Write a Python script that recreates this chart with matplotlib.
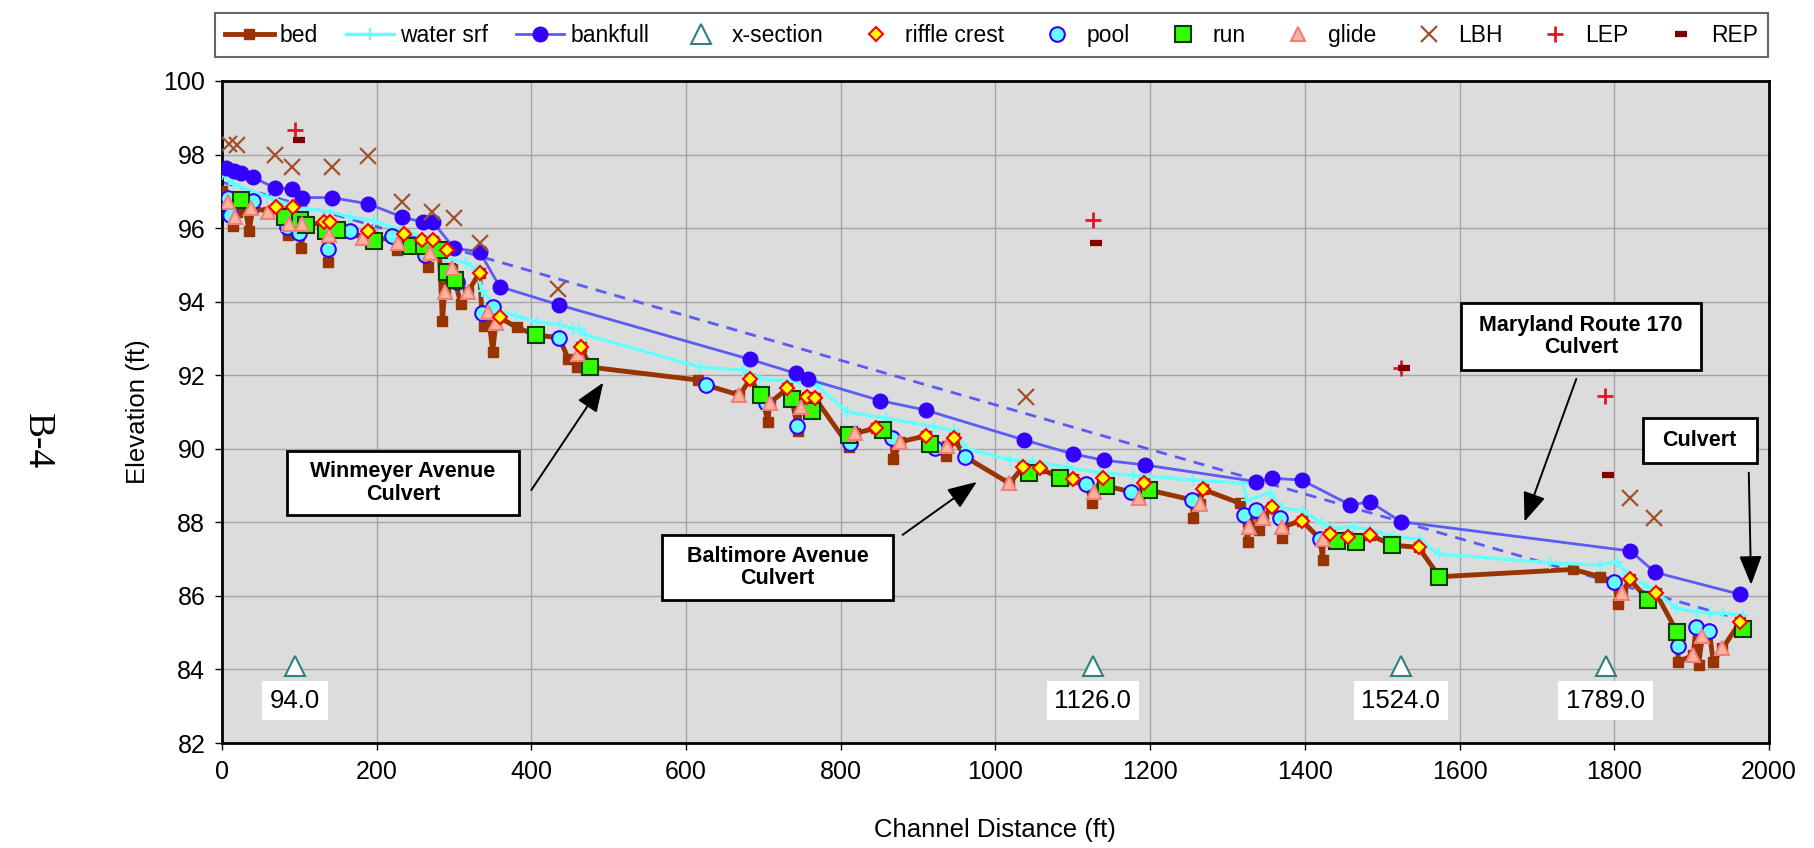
import matplotlib
matplotlib.use("Agg")
import matplotlib.pyplot as plt
from matplotlib.patches import Rectangle

plt.rcParams['font.family'] = ['Liberation Sans', 'DejaVu Sans']

# ---------------- data ----------------
bed_x = [0, 8, 14, 20, 30, 35, 40, 60, 70, 81, 85, 92, 101, 102, 108, 132, 137, 140, 149, 166,
         182, 189, 196, 220, 226, 235, 245, 259, 266, 273, 281, 285, 288, 291, 298, 301, 309, 318,
         333, 336, 339, 344, 350, 354, 359, 381, 406, 436, 448, 459, 464, 476, 615, 626, 669, 683,
         697, 706, 708, 731, 737, 745, 748, 757, 763, 767, 811, 818, 846, 855, 866, 868, 877, 910,
         916, 922, 936, 937, 946, 961, 1018, 1036, 1043, 1058, 1083, 1100, 1117, 1125, 1127, 1139,
         1143, 1175, 1186, 1192, 1198, 1254, 1256, 1264, 1268, 1316, 1321, 1326, 1328, 1337, 1341,
         1346, 1357, 1368, 1370, 1372, 1396, 1420, 1423, 1424, 1433, 1441, 1456, 1466, 1484, 1513,
         1547, 1574, 1747, 1782, 1800, 1805, 1810, 1820, 1844, 1854, 1881, 1883, 1902, 1906, 1909,
         1914, 1923, 1928, 1940, 1963, 1967]
bed_y = [97.00, 96.70, 96.05, 96.45, 96.55, 95.92, 96.55, 96.45, 96.55, 96.30, 95.80, 96.50, 96.20,
         95.47, 96.08, 96.15, 95.07, 96.10, 95.95, 95.90, 95.72, 95.90, 95.65, 95.75, 95.40, 95.80,
         95.50, 95.65, 94.95, 95.65, 95.40, 93.47, 94.30, 94.80, 94.90, 94.59, 93.93, 94.27, 94.79,
         93.70, 93.34, 93.73, 92.64, 93.41, 93.57, 93.30, 93.09, 93.02, 92.43, 92.23, 92.78, 92.22,
         91.87, 91.73, 91.46, 91.89, 91.46, 90.74, 91.24, 91.64, 91.34, 90.47, 91.13, 91.40, 91.03,
         91.37, 90.06, 90.42, 90.56, 90.51, 90.28, 89.71, 90.19, 90.35, 90.13, 90.01, 89.80, 90.08,
         90.28, 89.78, 89.06, 89.51, 89.35, 89.47, 89.20, 89.17, 89.04, 88.52, 88.83, 89.20, 88.99,
         88.83, 88.65, 89.06, 88.88, 88.61, 88.11, 88.50, 88.90, 88.52, 88.20, 87.47, 87.88, 88.34,
         87.79, 88.11, 88.41, 88.11, 87.57, 87.88, 88.05, 87.54, 86.98, 87.54, 87.68, 87.50, 87.61,
         87.47, 87.66, 87.38, 87.32, 86.52, 86.72, 86.52, 86.39, 85.78, 86.07, 86.45, 85.89, 86.07,
         85.03, 84.21, 84.39, 85.15, 84.12, 84.91, 85.05, 84.21, 84.57, 85.30, 85.09]

wsrf_x = [0, 15, 58, 100, 140, 166, 196, 230, 273, 290, 316, 330, 336, 360, 381, 407, 437, 454, 462,
          470, 618, 674, 696, 747, 769, 808, 859, 920, 946, 963, 1019, 1049, 1092, 1135, 1178, 1256,
          1320, 1325, 1355, 1370, 1398, 1422, 1437, 1463, 1484, 1515, 1547, 1573, 1717, 1782, 1803,
          1816, 1844, 1881, 1907, 1924, 1941, 1967]
wsrf_y = [97.47, 97.20, 96.85, 96.55, 96.45, 96.30, 96.20, 95.95, 95.70, 95.20, 95.05, 94.85, 94.30,
          93.75, 93.60, 93.45, 93.37, 93.27, 93.25, 93.10, 92.22, 92.14, 91.90, 91.82, 91.73, 91.00,
          90.83, 90.60, 90.50, 90.00, 89.70, 89.65, 89.50, 89.35, 89.28, 89.15, 89.06, 88.60, 88.80,
          88.40, 88.30, 87.97, 87.84, 87.88, 87.80, 87.62, 87.54, 87.14, 86.90, 86.84, 86.93, 86.60,
          86.25, 85.66, 85.57, 85.53, 85.53, 85.48]

bkf_x = [5, 15, 25, 40, 68, 91, 104, 142, 189, 233, 260, 273, 300, 333, 359, 436, 683, 742, 758, 851,
         910, 1037, 1100, 1140, 1193, 1337, 1357, 1396, 1459, 1484, 1524, 1821, 1853, 1963]
bkf_y = [97.63, 97.55, 97.50, 97.38, 97.10, 97.06, 96.83, 96.83, 96.66, 96.30, 96.16, 96.16, 95.45,
         95.36, 94.41, 93.91, 92.43, 92.05, 91.89, 91.31, 91.05, 90.24, 89.86, 89.69, 89.56, 89.11,
         89.20, 89.15, 88.47, 88.56, 88.02, 87.22, 86.64, 86.04]

bkf_trend_x = [0, 1965]
bkf_trend_y = [97.25, 85.35]

xsec_x = [94.0, 1126.0, 1524.0, 1789.0]
xsec_y = [84.1, 84.1, 84.1, 84.1]

riffle_x = [70, 92, 132, 140, 189, 235, 259, 273, 291, 333, 359, 464, 683, 731, 757, 767, 846, 910,
            946, 1036, 1058, 1100, 1139, 1192, 1268, 1357, 1396, 1433, 1456, 1484, 1547, 1820, 1854,
            1963]
riffle_y = [96.58, 96.57, 96.16, 96.16, 95.93, 95.83, 95.68, 95.68, 95.41, 94.79, 93.57, 92.78, 91.89,
            91.64, 91.40, 91.37, 90.56, 90.35, 90.28, 89.51, 89.47, 89.17, 89.20, 89.06, 88.90, 88.41,
            88.05, 87.68, 87.61, 87.66, 87.32, 86.45, 86.07, 85.30]

pool_x = [8, 11, 40, 84, 100, 137, 166, 220, 263, 304, 336, 350, 436, 626, 704, 743, 812, 866, 922,
          961, 1117, 1175, 1254, 1321, 1337, 1368, 1420, 1800, 1883, 1906, 1923]
pool_y = [96.81, 96.36, 96.75, 96.04, 95.88, 95.43, 95.92, 95.79, 95.27, 94.54, 93.70, 93.86, 93.02,
          91.73, 91.25, 90.62, 90.17, 90.28, 90.01, 89.78, 89.04, 88.83, 88.61, 88.20, 88.34, 88.11,
          87.54, 86.39, 84.65, 85.15, 85.05]

run_x = [24, 81, 101, 108, 135, 149, 196, 245, 261, 281, 291, 301, 406, 476, 697, 737, 763, 811, 855,
         916, 1043, 1083, 1143, 1198, 1441, 1466, 1513, 1574, 1844, 1881, 1967]
run_y = [96.76, 96.31, 96.22, 96.08, 95.92, 95.96, 95.65, 95.50, 95.50, 95.40, 94.82, 94.59, 93.09,
         92.22, 91.46, 91.34, 91.03, 90.37, 90.51, 90.13, 89.35, 89.20, 88.99, 88.88, 87.50, 87.47,
         87.38, 86.52, 85.89, 85.03, 85.09]

glide_x = [8, 17, 37, 60, 87, 104, 139, 182, 227, 269, 288, 298, 318, 344, 354, 460, 669, 708, 748,
           818, 877, 937, 1018, 1127, 1186, 1264, 1328, 1346, 1370, 1424, 1810, 1902, 1914, 1940]
glide_y = [96.72, 96.31, 96.54, 96.45, 96.11, 96.11, 95.81, 95.72, 95.59, 95.31, 94.27, 94.91, 94.27,
           93.73, 93.41, 92.58, 91.46, 91.24, 91.13, 90.42, 90.19, 90.08, 89.06, 88.83, 88.65, 88.50,
           87.88, 88.11, 87.88, 87.54, 86.07, 84.39, 84.91, 84.57]

lbh_x = [9, 19, 68, 91, 142, 189, 233, 272, 300, 333, 435, 1040, 1821, 1852]
lbh_y = [98.30, 98.26, 98.00, 97.65, 97.67, 97.97, 96.70, 96.45, 96.27, 95.59, 94.34, 91.40, 88.65,
         88.13]

lep_x = [94, 1126, 1524, 1788]
lep_y = [98.67, 96.22, 92.20, 91.43]

rep_x = [99, 1130, 1528, 1792]
rep_y = [98.40, 95.60, 92.20, 89.29]

culvert_labels = ["Winmeyer Avenue\nCulvert", "Baltimore Avenue\nCulvert",
                  "Maryland Route 170\nCulvert", "Culvert"]

# ---------------- figure ----------------
fig = plt.figure(figsize=(18.15, 8.48), dpi=100)
ax = fig.add_axes([0.1223, 0.1238, 0.8523, 0.7807])
ax.set_facecolor('#dcdcdc')
ax.set_xlim(0, 2000)
ax.set_ylim(82, 100)
ax.set_xticks(range(0, 2001, 200))
ax.set_yticks(range(82, 101, 2))
ax.grid(True, color='#a4a4a4', lw=1.0)
ax.set_axisbelow(True)
for s in ax.spines.values():
    s.set_linewidth(2.0)
    s.set_color('black')
ax.tick_params(axis='both', labelsize=18, length=5, width=1, direction='out', pad=7)
ax.set_xlabel('Channel Distance (ft)', fontsize=18.5, labelpad=25)
ax.set_ylabel('Elevation (ft)', fontsize=18.5, labelpad=10)

ax.plot(bkf_trend_x, bkf_trend_y, ls=(0, (4, 3)), color='#5b5bf5', lw=2.0, zorder=2)

h_bed, = ax.plot(bed_x, bed_y, color='#993300', lw=3.5, marker='s', ms=7.5,
                 mec='#993300', mfc='#993300', zorder=3, label='bed')
h_ws, = ax.plot(wsrf_x, wsrf_y, color='#66ffff', lw=2.5, marker='+', ms=9, mew=1.5,
                zorder=4, label='water srf')
h_bkf, = ax.plot(bkf_x, bkf_y, color='#5b5bf5', lw=2.0, marker='o', ms=10.5,
                 mfc='#3300ff', mec='#3300ff', zorder=5, label='bankfull')
h_xs, = ax.plot(xsec_x, xsec_y, ls='none', marker='^', ms=14, mfc='white', mec='#2f8080',
                mew=1.5, zorder=6, label='x-section')
h_pool, = ax.plot(pool_x, pool_y, ls='none', marker='o', ms=10.5, mfc='#66ffff', mec='#3300ff',
                  mew=1.5, zorder=6, label='pool')
h_run, = ax.plot(run_x, run_y, ls='none', marker='s', ms=11, mfc='#33ff00', mec='#0d3d0d',
                 mew=1.5, zorder=6, label='run')
h_glide, = ax.plot(glide_x, glide_y, ls='none', marker='^', ms=10.5, mfc='#ffb399', mec='#f08080',
                   mew=1.5, zorder=6, label='glide')
h_rif, = ax.plot(riffle_x, riffle_y, ls='none', marker='D', ms=7, mfc='#ffff00', mec='#ff0000',
                 mew=1.5, zorder=7, label='riffle crest')
h_lbh, = ax.plot(lbh_x, lbh_y, ls='none', marker='x', ms=11, mec='#a0522d', mew=1.6,
                 zorder=6, label='LBH')
h_lep, = ax.plot(lep_x, lep_y, ls='none', marker='+', ms=12, mec='#e8102a', mew=2,
                 zorder=6, label='LEP')
h_rep, = ax.plot(rep_x, rep_y, ls='none', marker='_', ms=8, mec='#800000', mew=4.5,
                 zorder=6, label='REP')

# x-section station labels
for xv in xsec_x:
    ax.text(xv, 83.15, f"{xv:.1f}", ha='center', va='center', fontsize=18.5, zorder=8,
            bbox=dict(boxstyle='square,pad=0.3', fc='white', ec='none'))

# culvert call-out boxes (axes-fraction positions: x0, y0, x1, y1)
box_pos = [(0.0420, 0.3444, 0.1918, 0.4405),
           (0.2844, 0.2160, 0.4337, 0.3142),
           (0.8008, 0.5628, 0.9564, 0.6647),
           (0.9184, 0.4225, 0.9921, 0.4914)]
for (x0, y0, x1, y1), txt in zip(box_pos, culvert_labels):
    ax.add_patch(Rectangle((x0, y0), x1 - x0, y1 - y0, transform=ax.transAxes,
                           fc='white', ec='black', lw=2, zorder=9))
    ax.text((x0 + x1) / 2, (y0 + y1) / 2, txt, transform=ax.transAxes, ha='center',
            va='center', fontsize=15.5, fontweight='bold', zorder=10, linespacing=1.1)

arrows = [((400, 88.88), (493, 91.80)),
          ((880, 87.66), (976, 89.10)),
          ((1751, 91.90), (1684, 88.02)),
          ((1974, 89.35), (1977, 86.30))]
for start, end in arrows:
    ax.annotate('', xy=end, xytext=start, zorder=10,
                arrowprops=dict(arrowstyle='-|>,head_length=0.9,head_width=0.35',
                                color='black', lw=1.4, mutation_scale=20,
                                shrinkA=0, shrinkB=0))

handles = [h_bed, h_ws, h_bkf, h_xs, h_rif, h_pool, h_run, h_glide, h_lbh, h_lep, h_rep]
leg = fig.legend(handles=handles, loc='lower left',
                 bbox_to_anchor=(0.1185, 0.9328, 0.8556, 0.0590), mode='expand', ncol=11,
                 fontsize=16.5, frameon=True, fancybox=False, edgecolor='#404040',
                 handlelength=2.1, handletextpad=0.25, borderaxespad=0, borderpad=0.45,
                 columnspacing=1.0)
leg.get_frame().set_linewidth(1.5)

fig.text(0.0204, 0.48, 'B-4', rotation=-90, ha='center', va='center', fontsize=27,
         family=['Liberation Serif', 'DejaVu Serif'])

fig.savefig('out.png', dpi=100)
